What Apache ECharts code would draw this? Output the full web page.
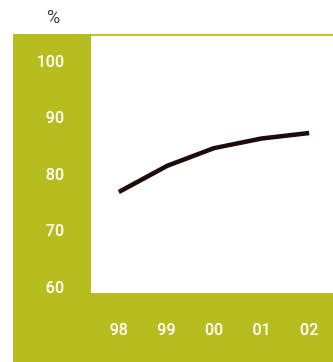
<!DOCTYPE html>
<html>
<head>
<meta charset="utf-8">
<style>
  html, body { margin: 0; padding: 0; background: #ffffff; }
  #chart { width: 333px; height: 362px; }
</style>
<script src="https://cdn.jsdelivr.net/npm/echarts@6/dist/echarts.min.js"></script>
</head>
<body>
<div id="chart"></div>
<script>
// Years shown on the horizontal axis
const years = ['98', '99', '00', '01', '02'];
// Share in percent for each year
const shares = [77.1, 81.7, 84.9, 86.6, 87.6];
// Vertical axis range and step
const yMin = 60;
const yMax = 100;
const yStep = 10;

const olive = '#b7bd1f';
const labelFont = 'Roboto, "Liberation Sans", Arial, sans-serif';

const chart = echarts.init(document.getElementById('chart'));
chart.setOption({
  animation: false,
  backgroundColor: '#ffffff',
  graphic: [
    // left band
    { type: 'rect', z: -10, shape: { x: 13, y: 34, width: 78, height: 328 }, style: { fill: olive } },
    // bottom band
    { type: 'rect', z: -10, shape: { x: 13, y: 293, width: 320, height: 69 }, style: { fill: olive } },
    // thin rule along the top of the plot
    { type: 'rect', z: -10, shape: { x: 91, y: 34, width: 242, height: 2 }, style: { fill: '#bfc525' } },
    // unit label
    { type: 'text', left: 47, top: 9, style: { text: '%', fill: '#3a3333', font: '18px ' + labelFont } }
  ],
  grid: { left: 95, right: 0, top: 63, bottom: 73.5, containLabel: false },
  xAxis: {
    type: 'category',
    data: years,
    boundaryGap: true,
    axisLine: { show: false },
    axisTick: { show: false },
    axisLabel: {
      color: '#ffffff',
      fontFamily: labelFont,
      fontSize: 16,
      fontWeight: 500,
      margin: 34
    },
    splitLine: { show: false }
  },
  yAxis: {
    type: 'value',
    min: yMin,
    max: yMax,
    interval: yStep,
    axisLine: { show: false },
    axisTick: { show: false },
    splitLine: { show: false },
    axisLabel: {
      color: '#ffffff',
      fontFamily: labelFont,
      fontSize: 16,
      fontWeight: 500,
      margin: 31,
      padding: [3, 0, 0, 0]
    }
  },
  series: [{
    type: 'line',
    data: shares,
    symbol: 'none',
    lineStyle: { color: '#1f0b0b', width: 4.5, cap: 'butt', join: 'round' }
  }]
});
</script>
</body>
</html>
